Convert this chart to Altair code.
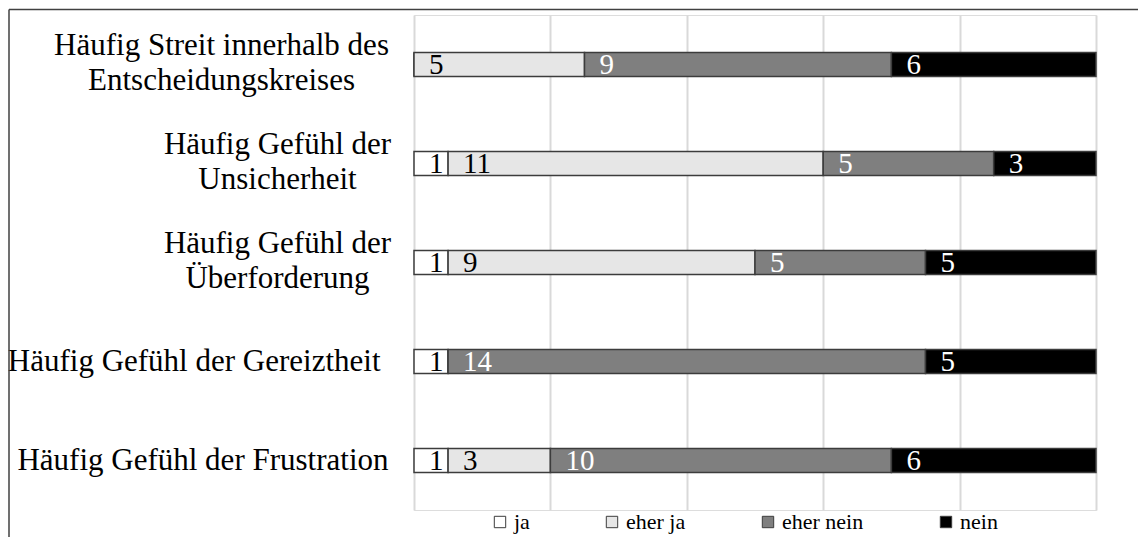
import altair as alt
import pandas as pd

CATEGORIES = [
    "Häufig Streit innerhalb des|Entscheidungskreises",
    "Häufig Gefühl der|Unsicherheit",
    "Häufig Gefühl der|Überforderung",
    "Häufig Gefühl der Gereiztheit",
    "Häufig Gefühl der Frustration",
]
ANSWERS = ["ja", "eher ja", "eher nein", "nein"]
JA = [0, 1, 1, 1, 1]
EHER_JA = [5, 11, 9, 0, 3]
EHER_NEIN = [9, 5, 5, 14, 10]
NEIN = [6, 3, 5, 5, 6]
COLORS = ["#ffffff", "#e6e6e6", "#7f7f7f", "#000000"]
X_TICKS = [0, 4, 8, 12, 16, 20]

rows = []
for i, cat in enumerate(CATEGORIES):
    for j, (ans, vals) in enumerate(zip(ANSWERS, [JA, EHER_JA, EHER_NEIN, NEIN])):
        rows.append({"category": cat, "answer": ans, "order": j, "value": vals[i]})
df = pd.DataFrame(rows)

FONT = "Liberation Serif"


def is_cat(idx):
    return f"datum.value == '{CATEGORIES[idx]}'"


multi = f"({is_cat(0)} || {is_cat(1)} || {is_cat(2)})"

y_enc = alt.Y(
    "category:N",
    sort=CATEGORIES,
    scale=alt.Scale(paddingInner=0.758, paddingOuter=0.379),
    axis=alt.Axis(
        title=None,
        domain=False,
        ticks=False,
        tickSize=0,
        labelFont=FONT,
        labelFontSize=31,
        labelColor="#000000",
        labelLimit=0,
        labelLineHeight=35,
        labelExpr="split(datum.label, '|')",
        labelAlign={"condition": {"test": multi, "value": "center"}, "value": "right"},
        labelOffset={"condition": {"test": multi, "value": -19}, "value": 0},
        labelPadding={
            "condition": [
                {"test": is_cat(0), "value": 193},
                {"test": f"({is_cat(1)} || {is_cat(2)})", "value": 137},
                {"test": is_cat(3), "value": 34},
            ],
            "value": 26,
        },
    ),
)

x_scale = alt.Scale(domain=[0, 20], nice=False, zero=True)

base = alt.Chart(df).transform_stack(
    stack="value",
    groupby=["category"],
    as_=["start", "end"],
    sort=[alt.SortField("order", order="ascending")],
)

bars = base.mark_bar(stroke="#3c3c3c", strokeWidth=1.5).encode(
    x=alt.X(
        "start:Q",
        scale=x_scale,
        axis=alt.Axis(
            title=None, labels=False, ticks=False, domain=False, grid=True,
            values=X_TICKS, gridColor="#d9d9d9", gridWidth=2,
        ),
    ),
    x2="end:Q",
    y=y_enc,
    color=alt.Color(
        "answer:N",
        scale=alt.Scale(domain=ANSWERS, range=COLORS),
        sort=ANSWERS,
        legend=alt.Legend(
            title=None,
            orient="none",
            legendX=75,
            legendY=496,
            direction="horizontal",
            columns=4,
            columnPadding=71,
            labelOffset=3,
            symbolType="square",
            symbolSize=130,
            symbolStrokeColor="#3c3c3c",
            symbolStrokeWidth=1,
            labelFont=FONT,
            labelFontSize=22,
            labelColor="#000000",
            labelLimit=0,
        ),
    ),
)

labels = base.transform_filter("datum.value > 0").mark_text(
    align="left", baseline="middle", dx=15, font=FONT, fontSize=29
).encode(
    x=alt.X("start:Q", scale=x_scale),
    y=alt.Y("category:N", sort=CATEGORIES),
    text="value:Q",
    color=alt.condition(
        "datum.answer == 'ja' || datum.answer == 'eher ja'",
        alt.value("#000000"),
        alt.value("#ffffff"),
    ),
)

frame_src = alt.Chart(pd.DataFrame({"k": [0]}))
left_line = frame_src.mark_rule(color="#404040", strokeWidth=1.5).encode(
    x=alt.value(-405), y=alt.value(-5.5), y2=alt.value(540)
)
top_line = frame_src.mark_rule(color="#404040", strokeWidth=1.5).encode(
    x=alt.value(-405), x2=alt.value(740), y=alt.value(-5.5)
)

chart = alt.layer(bars, labels, left_line, top_line).properties(
    width=682,
    height=495,
    autosize=alt.AutoSizeParams(type="none"),
    padding={"left": 406, "top": 7, "right": 42, "bottom": 27},
).configure_view(stroke=None).configure(
    background="#ffffff", font=FONT
).configure_legend(labelFont=FONT, labelFontSize=22)

chart.save("out.html", embed_options={"renderer": "svg", "actions": False})
